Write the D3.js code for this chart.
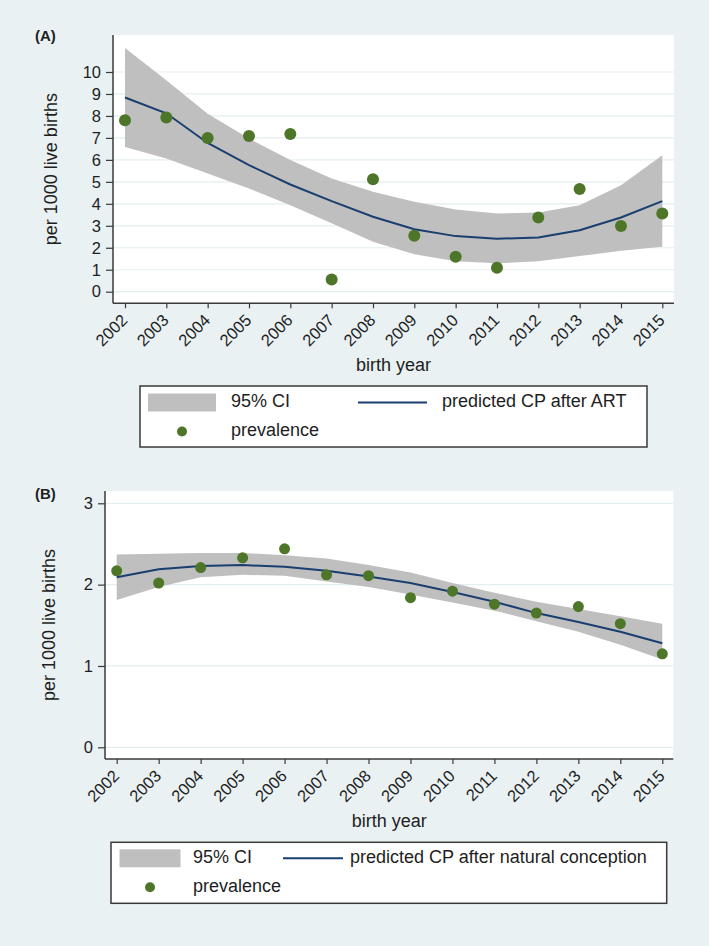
<!DOCTYPE html>
<html><head><meta charset="utf-8">
<script src="https://cdn.jsdelivr.net/npm/d3@7"></script>
<style>body{margin:0;background:#e9f1f3;} svg{display:block;}</style>
</head><body>
<script>
const years = [2002,2003,2004,2005,2006,2007,2008,2009,2010,2011,2012,2013,2014,2015];

// Panel A: ART
const prevA  = [7.80,7.93,7.00,7.09,7.18,0.56,5.12,2.55,1.59,1.09,3.38,4.67,2.99,3.56];
const predA  = [8.84,8.12,6.77,5.76,4.88,4.12,3.41,2.84,2.53,2.41,2.47,2.80,3.38,4.12];
const upperA = [11.09,9.62,8.10,6.97,5.99,5.15,4.55,4.09,3.74,3.56,3.61,3.94,4.85,6.21];
const lowerA = [6.59,6.06,5.38,4.70,3.94,3.11,2.27,1.71,1.39,1.29,1.39,1.62,1.86,2.05];
const yTicksA = [0,1,2,3,4,5,6,7,8,9,10];

// Panel B: natural conception
const prevB  = [2.17,2.02,2.21,2.33,2.44,2.12,2.11,1.84,1.92,1.76,1.65,1.73,1.52,1.15];
const predB  = [2.09,2.19,2.23,2.24,2.22,2.17,2.10,2.02,1.91,1.79,1.65,1.54,1.42,1.28];
const upperB = [2.37,2.38,2.39,2.39,2.36,2.32,2.24,2.15,2.02,1.90,1.79,1.70,1.61,1.52];
const lowerB = [1.81,1.97,2.09,2.12,2.11,2.04,1.97,1.88,1.78,1.68,1.55,1.42,1.26,1.08];
const yTicksB = [0,1,2,3];

const W = 709, H = 946;
const BG = "#e9f1f3", GRID = "#e4eef1", CI = "#bfbfbf", LINE = "#1a3f6f", DOT = "#4d7628", TXT = "#1e1e1e", AX = "#3a3a3a";
const FONT = "'Liberation Sans', Arial, sans-serif";

const svg = d3.select("body").append("svg").attr("width", W).attr("height", H);
svg.append("rect").attr("width", W).attr("height", H).attr("fill", BG);

function panel(cfg) {
  const g = svg.append("g");
  const x = d3.scaleLinear().domain([2002, 2015]).range([cfg.x0, cfg.x1]);
  const y = d3.scaleLinear().domain([0, cfg.yTopVal]).range([cfg.y0, cfg.yTop]);
  g.append("rect").attr("x", cfg.left).attr("y", cfg.top)
    .attr("width", cfg.right - cfg.left).attr("height", cfg.axisY - cfg.top).attr("fill", "#fff");
  g.selectAll(".grid").data(cfg.yTicks).join("line")
    .attr("x1", cfg.left).attr("x2", cfg.right)
    .attr("y1", d => y(d)).attr("y2", d => y(d))
    .attr("stroke", GRID).attr("stroke-width", 1.2);
  const data = years.map((yr, i) => ({yr, p: cfg.prev[i], f: cfg.pred[i], u: cfg.upper[i], l: cfg.lower[i]}));
  g.append("path").datum(data)
    .attr("d", d3.area().x(d => x(d.yr)).y0(d => y(d.l)).y1(d => y(d.u)))
    .attr("fill", CI);
  g.append("path").datum(data)
    .attr("d", d3.line().x(d => x(d.yr)).y(d => y(d.f)))
    .attr("fill", "none").attr("stroke", LINE).attr("stroke-width", 2);
  g.selectAll(".pt").data(data).join("circle")
    .attr("cx", d => x(d.yr)).attr("cy", d => y(d.p)).attr("r", cfg.r)
    .attr("fill", DOT);
  const ya = g.append("g").attr("transform", `translate(${cfg.left},0)`)
    .call(d3.axisLeft(y).tickValues(cfg.yTicks).tickSize(7).tickPadding(5).tickFormat(d3.format("d")));
  ya.select(".domain").attr("d", `M0,${cfg.top}V${cfg.axisY}`).attr("stroke", AX).attr("stroke-width", 1.5);
  ya.selectAll(".tick line").attr("stroke", AX).attr("stroke-width", 1.2);
  ya.selectAll(".tick text").attr("font-family", FONT).attr("font-size", 16.5).attr("fill", TXT);
  const xa = g.append("g").attr("transform", `translate(0,${cfg.axisY})`)
    .call(d3.axisBottom(x).tickValues(years).tickSize(5).tickFormat(d3.format("d")));
  xa.select(".domain").attr("d", `M${cfg.left},0H${cfg.right}`).attr("stroke", AX).attr("stroke-width", 1.5);
  xa.selectAll(".tick line").attr("stroke", AX).attr("stroke-width", 1.2);
  xa.selectAll(".tick text").attr("font-family", FONT).attr("font-size", 16.5).attr("fill", TXT)
    .attr("text-anchor", "end").attr("y", 0).attr("dy", 0)
    .attr("transform", "translate(3,18) rotate(-45)");
  g.append("text").attr("x", (cfg.left + cfg.right) / 2).attr("y", cfg.axisY + 63)
    .attr("text-anchor", "middle").attr("dominant-baseline", "middle")
    .attr("font-family", FONT).attr("font-size", 18).attr("fill", TXT).text("birth year");
  g.append("text").attr("transform", `translate(${cfg.ylabX},${(cfg.top + cfg.axisY) / 2}) rotate(-90)`)
    .attr("text-anchor", "middle").attr("dominant-baseline", "middle")
    .attr("font-family", FONT).attr("font-size", 18).attr("fill", TXT).text("per 1000 live births");
  g.append("text").attr("x", 35).attr("y", cfg.tagY)
    .attr("dominant-baseline", "middle").attr("font-family", FONT).attr("font-weight", "bold")
    .attr("font-size", 15).attr("fill", TXT).text(cfg.tag);
  const L = cfg.leg;
  const lg = g.append("g");
  lg.append("rect").attr("x", L.x).attr("y", L.y).attr("width", L.w).attr("height", L.h)
    .attr("fill", "#fff").attr("stroke", "#3a3a3a").attr("stroke-width", 1.5);
  lg.append("rect").attr("x", L.swX).attr("y", L.row1 - 9).attr("width", L.swW).attr("height", 18).attr("fill", CI);
  lg.append("text").attr("x", L.t1X).attr("y", L.row1).attr("dominant-baseline", "middle")
    .attr("font-family", FONT).attr("font-size", 18).attr("fill", TXT).text("95% CI");
  lg.append("line").attr("x1", L.lnX1).attr("x2", L.lnX2).attr("y1", L.row1).attr("y2", L.row1)
    .attr("stroke", LINE).attr("stroke-width", 2);
  lg.append("text").attr("x", L.t2X).attr("y", L.row1).attr("dominant-baseline", "middle")
    .attr("font-family", FONT).attr("font-size", 18).attr("fill", TXT).text(L.lineLabel);
  lg.append("circle").attr("cx", L.dotX).attr("cy", L.row2).attr("r", 5).attr("fill", DOT);
  lg.append("text").attr("x", L.t1X).attr("y", L.row2).attr("dominant-baseline", "middle")
    .attr("font-family", FONT).attr("font-size", 18).attr("fill", TXT).text("prevalence");
}

panel({
  prev: prevA, pred: predA, upper: upperA, lower: lowerA, yTicks: yTicksA,
  x0: 125, x1: 662.3, left: 113, right: 674, top: 35, axisY: 303.3,
  y0: 291.7, yTop: 72, yTopVal: 10, r: 6, ylabX: 52, tag: "(A)", tagY: 37,
  leg: {x: 140, y: 386, w: 507, h: 61, row1: 402.5, row2: 431.5, swX: 148, swW: 68, t1X: 231,
        lnX1: 358, lnX2: 427, t2X: 442, dotX: 182, lineLabel: "predicted CP after ART"}
});

panel({
  prev: prevB, pred: predB, upper: upperB, lower: lowerB, yTicks: yTicksB,
  x0: 116.7, x1: 662.3, left: 105, right: 673.3, top: 491, axisY: 759,
  y0: 747.3, yTop: 503.3, yTopVal: 3, r: 5.5, ylabX: 50, tag: "(B)", tagY: 495,
  leg: {x: 111, y: 842.3, w: 555.7, h: 61, row1: 858.3, row2: 887.3, swX: 119.5, swW: 61, t1X: 193,
        lnX1: 283, lnX2: 343, t2X: 350, dotX: 150, lineLabel: "predicted CP after natural conception"}
});
</script>
</body></html>
